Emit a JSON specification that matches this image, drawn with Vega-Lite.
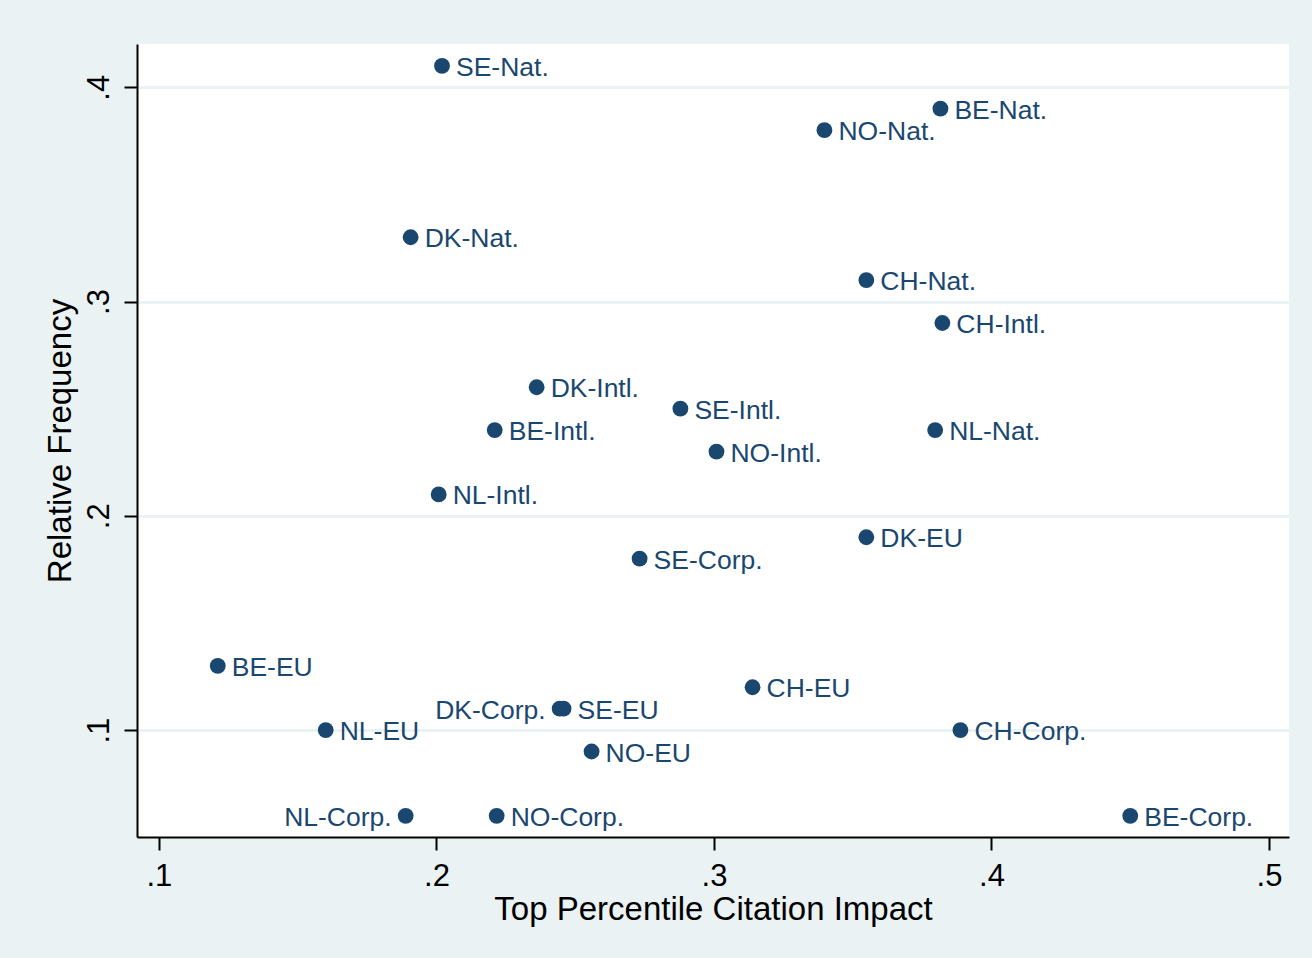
{
  "$schema": "https://vega.github.io/schema/vega-lite/v6.json",
  "autosize": "none",
  "width": 1152,
  "height": 793,
  "padding": {"left": 137, "top": 44, "right": 23, "bottom": 121},
  "background": "#eaf2f3",
  "config": {
    "view": {"fill": "white", "stroke": null},
    "font": "Liberation Sans"
  },
  "data": {
    "values": [
      {"label": "SE-Nat.", "impact": 0.202, "freq": 0.41},
      {"label": "BE-Nat.", "impact": 0.3816, "freq": 0.39},
      {"label": "NO-Nat.", "impact": 0.3398, "freq": 0.38},
      {"label": "DK-Nat.", "impact": 0.1907, "freq": 0.33},
      {"label": "CH-Nat.", "impact": 0.3549, "freq": 0.31},
      {"label": "CH-Intl.", "impact": 0.3823, "freq": 0.29},
      {"label": "DK-Intl.", "impact": 0.2361, "freq": 0.26},
      {"label": "SE-Intl.", "impact": 0.2879, "freq": 0.25},
      {"label": "BE-Intl.", "impact": 0.221, "freq": 0.24},
      {"label": "NL-Nat.", "impact": 0.3797, "freq": 0.24},
      {"label": "NO-Intl.", "impact": 0.3009, "freq": 0.23},
      {"label": "NL-Intl.", "impact": 0.2008, "freq": 0.21},
      {"label": "DK-EU", "impact": 0.3549, "freq": 0.19},
      {"label": "SE-Corp.", "impact": 0.2732, "freq": 0.18},
      {"label": "BE-EU", "impact": 0.1212, "freq": 0.13},
      {"label": "CH-EU", "impact": 0.3139, "freq": 0.12},
      {"label": "DK-Corp.", "impact": 0.2444, "freq": 0.11},
      {"label": "SE-EU", "impact": 0.2458, "freq": 0.11},
      {"label": "NL-EU", "impact": 0.1601, "freq": 0.10},
      {"label": "CH-Corp.", "impact": 0.3888, "freq": 0.10},
      {"label": "NO-EU", "impact": 0.2559, "freq": 0.09},
      {"label": "NL-Corp.", "impact": 0.1889, "freq": 0.06},
      {"label": "NO-Corp.", "impact": 0.2217, "freq": 0.06},
      {"label": "BE-Corp.", "impact": 0.45, "freq": 0.06}
    ]
  },
  "encoding": {
    "x": {
      "field": "impact",
      "type": "quantitative",
      "scale": {"domain": [0.0921, 0.5072], "nice": false, "zero": false},
      "axis": {
        "title": "Top Percentile Citation Impact",
        "values": [0.1, 0.2, 0.3, 0.4, 0.5],
        "labelExpr": "substring(format(datum.value, '.1f'), 1)",
        "grid": false,
        "domainColor": "black",
        "domainWidth": 2,
        "tickColor": "black",
        "tickWidth": 2,
        "tickSize": 13,
        "labelFontSize": 31,
        "labelColor": "black",
        "labelPadding": 11,
        "titleFontSize": 33,
        "titleFontWeight": "normal",
        "titleColor": "black",
        "titlePadding": 2
      }
    },
    "y": {
      "field": "freq",
      "type": "quantitative",
      "scale": {"domain": [0.0501, 0.4202], "nice": false, "zero": false},
      "axis": {
        "title": "Relative Frequency",
        "values": [0.1, 0.2, 0.3, 0.4],
        "labelExpr": "substring(format(datum.value, '.1f'), 1)",
        "labelAngle": -90,
        "labelAlign": "center",
        "labelBaseline": "bottom",
        "grid": true,
        "gridColor": "#eaf2f3",
        "gridWidth": 3,
        "domainColor": "black",
        "domainWidth": 2,
        "tickColor": "black",
        "tickWidth": 2,
        "tickSize": 13,
        "labelFontSize": 31,
        "labelColor": "black",
        "labelPadding": 9,
        "titleFontSize": 33,
        "titleFontWeight": "normal",
        "titleColor": "black",
        "titlePadding": 6
      }
    }
  },
  "layer": [
    {
      "mark": {"type": "circle", "size": 250, "color": "#1a476f", "opacity": 1}
    },
    {
      "transform": [{"filter": {"not": {"field": "label", "oneOf": ["DK-Corp.", "NL-Corp."]}}}],
      "mark": {"type": "text", "align": "left", "baseline": "middle", "dx": 14, "dy": 2, "fontSize": 26.5, "color": "#1a476f"},
      "encoding": {"text": {"field": "label"}}
    },
    {
      "transform": [{"filter": {"field": "label", "oneOf": ["DK-Corp.", "NL-Corp."]}}],
      "mark": {"type": "text", "align": "right", "baseline": "middle", "dx": -14, "dy": 2, "fontSize": 26.5, "color": "#1a476f"},
      "encoding": {"text": {"field": "label"}}
    }
  ]
}
